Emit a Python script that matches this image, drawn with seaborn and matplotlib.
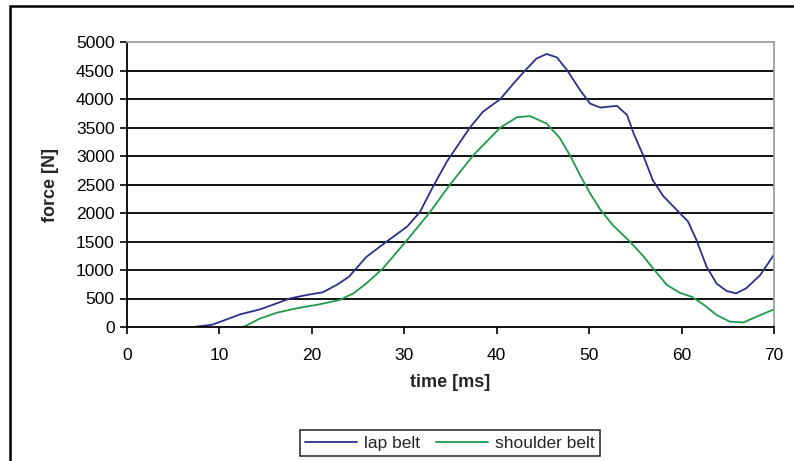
import pandas as pd
import seaborn as sns
import matplotlib.pyplot as plt
from matplotlib.patches import Rectangle

# lap belt readings
lap_time = [7.2, 9.2, 10.4, 12.2, 14.4, 16.2, 17.6, 19.4, 21.2, 22.7, 24.0, 25.9,
            28.1, 30.3, 31.7, 33.1, 34.6, 37.1, 38.5, 40.4, 41.8, 42.9, 44.3,
            45.4, 46.5, 47.6, 49.0, 50.1, 51.2, 53.0, 54.1, 54.8, 55.9, 56.9,
            58.0, 59.5, 60.7, 61.6, 62.7, 63.8, 64.9, 65.9, 67.0, 68.5, 70.0]
lap_force = [0, 40, 110, 220, 310, 415, 500, 560, 610, 740, 880, 1230,
             1500, 1760, 2020, 2460, 2900, 3500, 3775, 4000, 4270, 4470, 4710,
             4790, 4730, 4510, 4160, 3920, 3850, 3880, 3720, 3400, 2990, 2570,
             2300, 2050, 1850, 1530, 1060, 760, 630, 590, 680, 910, 1270]

# shoulder belt readings
shoulder_time = [12.6, 14.4, 16.2, 18.4, 20.9, 23.0, 24.5, 25.9, 27.7, 30.3,
                 32.8, 34.9, 37.5, 40.4, 42.2, 43.6, 45.4, 46.8, 47.9, 49.0,
                 50.1, 51.2, 52.6, 54.4, 55.9, 56.9, 58.4, 59.8, 61.1, 62.4,
                 63.8, 65.2, 66.7, 68.1, 70.0]
shoulder_force = [0, 150, 250, 330, 400, 475, 590, 765, 1030, 1525,
                  2020, 2490, 3020, 3500, 3680, 3700, 3570, 3320, 3020, 2670,
                  2345, 2060, 1780, 1500, 1235, 1030, 740, 600, 530, 390,
                  210, 95, 80, 180, 310]

series_names = ['lap belt', 'shoulder belt']
x_ticks = list(range(0, 71, 10))
y_ticks = list(range(0, 5001, 500))

df = pd.concat([
    pd.DataFrame({'time': lap_time, 'force': lap_force, 'belt': series_names[0]}),
    pd.DataFrame({'time': shoulder_time, 'force': shoulder_force, 'belt': series_names[1]}),
])

sns.set_style("ticks")
plt.rcParams['font.family'] = ['Liberation Sans', 'DejaVu Sans']

fig = plt.figure(figsize=(7.94, 4.61), dpi=100)
ax = fig.add_axes([127 / 794, 1 - 327 / 461, (774 - 127) / 794, (327 - 42) / 461])

colors = {'lap belt': '#2f2f8a', 'shoulder belt': '#1f9a4c'}
sns.lineplot(data=df, x='time', y='force', hue='belt', ax=ax,
             palette=colors, linewidth=1.3, legend=False)

ax.set_xlim(0, 70)
ax.set_ylim(0, 5000)
ax.set_xticks(x_ticks)
ax.set_yticks(y_ticks)
ax.tick_params(axis='both', labelsize=12.5, colors='black', direction='out',
               length=5, width=1.2, pad=4)
ax.tick_params(axis='x', pad=10)

for y in y_ticks[1:-1]:
    ax.axhline(y, color='black', linewidth=1.3, zorder=0)

for side in ['left', 'bottom']:
    ax.spines[side].set_color('black')
    ax.spines[side].set_linewidth(1.3)
for side in ['top', 'right']:
    ax.spines[side].set_color('#a0a0a0')
    ax.spines[side].set_linewidth(1.3)

ax.set_xlabel('time [ms]', fontsize=13, fontweight='bold', labelpad=8)
ax.set_ylabel('force [N]', fontsize=13, fontweight='bold', labelpad=12)

handles = [plt.Line2D([], [], color=colors[n], linewidth=1.3) for n in series_names]
leg = fig.legend(handles, series_names, loc='center',
                 bbox_to_anchor=(450 / 794, 1 - 443 / 461),
                 ncol=2, fontsize=12.5, frameon=True, fancybox=False,
                 handlelength=3.0, handletextpad=0.4, columnspacing=0.9,
                 borderpad=0.3)
leg.get_frame().set_edgecolor('black')
leg.get_frame().set_linewidth(1.2)

# outer chart frame (right and bottom edges run off the picture)
fig.patches.append(Rectangle((10 / 794, -0.5), 2, 1.5 - 6 / 461,
                             transform=fig.transFigure, fill=False,
                             edgecolor='black', linewidth=1.8))

fig.savefig('out.png', dpi=100)
